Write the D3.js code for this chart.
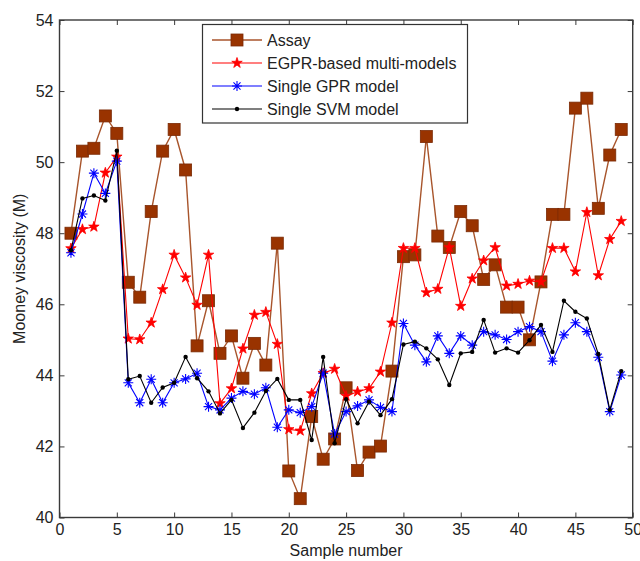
<!DOCTYPE html>
<html>
<head>
<meta charset="utf-8">
<script src="https://cdn.jsdelivr.net/npm/d3@7"></script>
<style>
  html, body { margin: 0; padding: 0; background: #fff; }
  svg { display: block; font-family: "Liberation Sans", Arial, sans-serif; }
</style>
</head>
<body>
<svg id="chart" width="640" height="561"></svg>
<script>
const samples = d3.range(1, 50);
const assay = [48.0, 50.31, 50.39, 51.3, 50.81, 46.62, 46.2, 48.61, 50.31, 50.92,
  49.78, 44.83, 46.1, 44.62, 45.11, 43.92, 44.9, 44.29, 47.72, 41.31,
  40.53, 42.84, 41.64, 42.21, 43.65, 41.32, 41.84, 42.01, 44.12, 47.34,
  47.39, 50.72, 47.92, 47.6, 48.61, 48.21, 46.7, 47.11, 45.92, 45.92,
  45.0, 46.63, 48.53, 48.53, 51.52, 51.8, 48.7, 50.2, 50.92];
const egpr = [47.57, 48.11, 48.18, 49.7, 50.15, 45.03, 45.01, 45.48, 46.42, 47.39,
  46.75, 45.98, 47.39, 43.21, 43.63, 44.75, 45.7, 45.78, 44.88, 42.48,
  42.44, 43.49, 44.06, 44.18, 43.42, 43.54, 43.63, 44.1, 45.48, 47.58,
  47.58, 46.33, 46.43, 47.6, 45.95, 46.72, 47.23, 47.6, 46.52, 46.57,
  46.66, 46.63, 47.58, 47.58, 46.92, 48.59, 46.81, 47.83, 48.34];
const gpr = [47.45, 48.54, 49.69, 49.12, 50.03, 43.79, 43.23, 43.89, 43.23, 43.79,
  43.9, 44.06, 43.12, 43.03, 43.36, 43.55, 43.47, 43.65, 42.54, 43.03,
  42.95, 43.12, 44.06, 42.35, 42.98, 43.14, 43.31, 43.1, 42.98, 45.46,
  44.85, 44.38, 45.11, 44.62, 45.11, 44.85, 45.23, 45.14, 45.01, 45.23,
  45.37, 45.23, 44.4, 45.14, 45.48, 45.23, 44.51, 42.98, 44.01];
const svmv = [47.52, 48.98, 49.06, 48.92, 50.32, 43.89, 43.98, 43.23, 43.66, 43.79,
  44.52, 43.92, 43.55, 42.93, 43.31, 42.52, 42.95, 43.56, 43.9, 43.31,
  43.31, 42.18, 44.52, 42.09, 43.33, 42.65, 43.26, 42.88, 43.33, 44.87,
  44.95, 44.76, 44.45, 43.73, 44.62, 44.66, 45.56, 44.64, 44.76, 44.64,
  44.99, 45.42, 44.66, 46.1, 45.79, 45.6, 44.6, 43.03, 44.12];
const seriesNames = ["Assay", "EGPR-based multi-models", "Single GPR model", "Single SVM model"];
const xTicks = [0, 5, 10, 15, 20, 25, 30, 35, 40, 45, 50];
const yTicks = [40, 42, 44, 46, 48, 50, 52, 54];
const xLabel = "Sample number";
const yLabel = "Mooney viscosity (M)";

const W = 640, H = 561;
const m = {left: 59.5, right: 7.3, top: 20, bottom: 43.5};
const iw = W - m.left - m.right, ih = H - m.top - m.bottom;
const svg = d3.select("#chart");
const g = svg.append("g").attr("transform", `translate(${m.left},${m.top})`);

const x = d3.scaleLinear().domain([0, 50]).range([0, iw]);
const y = d3.scaleLinear().domain([40, 54]).range([ih, 0]);

const fs = 16;
const axisColor = "#3a3a3a";

function styleAxis(sel) {
  sel.select(".domain").remove();
  sel.selectAll(".tick line").attr("stroke", axisColor).attr("stroke-width", 1);
  sel.selectAll(".tick text").attr("fill", "#222").style("font-size", fs + "px");
}

g.append("g").attr("transform", `translate(0,${ih})`)
  .call(d3.axisBottom(x).tickValues(xTicks).tickSizeInner(-5).tickSizeOuter(0).tickPadding(6))
  .call(styleAxis);
g.append("g")
  .call(d3.axisTop(x).tickValues(xTicks).tickSizeInner(-5).tickSizeOuter(0).tickFormat(""))
  .call(styleAxis);
g.append("g")
  .call(d3.axisLeft(y).tickValues(yTicks).tickSizeInner(-5).tickSizeOuter(0).tickPadding(6))
  .call(styleAxis);
g.append("g").attr("transform", `translate(${iw},0)`)
  .call(d3.axisRight(y).tickValues(yTicks).tickSizeInner(-5).tickSizeOuter(0).tickFormat(""))
  .call(styleAxis);

g.append("rect").attr("x", 0).attr("y", 0).attr("width", iw).attr("height", ih)
  .attr("fill", "none").attr("stroke", axisColor).attr("stroke-width", 1.4);

// Labels
svg.append("text").attr("x", m.left + x(25)).attr("y", 556)
  .attr("text-anchor", "middle").attr("fill", "#222").style("font-size", fs + "px").text(xLabel);
svg.append("text").attr("transform", `translate(25,${m.top + y(47)}) rotate(-90)`)
  .attr("text-anchor", "middle").attr("fill", "#222").style("font-size", fs + "px").text(yLabel);

// Markers
const lineColors = ["#a8552c", "#ff0000", "#0000ff", "#000000"];
const starPath = d3.symbol().type(d3.symbolStar).size(34)();
function asteriskPath(r) {
  const d = r * Math.SQRT1_2;
  return `M${-r},0L${r},0M0,${-r}L0,${r}M${-d},${-d}L${d},${d}M${-d},${d}L${d},${-d}`;
}
function drawMarker(sel, k) {
  if (k === 0) {
    sel.append("rect").attr("x", -6).attr("y", -6).attr("width", 12).attr("height", 12)
      .attr("fill", "#993300").attr("stroke", "#7a2a05").attr("stroke-width", 0.8);
  } else if (k === 1) {
    sel.append("path").attr("d", starPath).attr("fill", "#ff0000").attr("stroke", "#ff0000").attr("stroke-width", 0.8);
  } else if (k === 2) {
    sel.append("path").attr("d", asteriskPath(5)).attr("fill", "none").attr("stroke", "#0000ff").attr("stroke-width", 1.1);
  } else {
    sel.append("circle").attr("r", 2.2).attr("fill", "#000").attr("stroke", "none");
  }
}

const allSeries = [assay, egpr, gpr, svmv];
const line = d3.line().x((d, i) => x(samples[i])).y(d => y(d));
allSeries.forEach((vals, k) => {
  const sg = g.append("g");
  sg.append("path").datum(vals).attr("d", line).attr("fill", "none")
    .attr("stroke", lineColors[k]).attr("stroke-width", k === 0 ? 1.4 : 1.1);
  sg.selectAll("g.mk").data(vals).join("g").attr("class", "mk")
    .attr("transform", (d, i) => `translate(${x(samples[i])},${y(d)})`)
    .each(function() { drawMarker(d3.select(this), k); });
});

// Legend
const lg = svg.append("g");
lg.append("rect").attr("x", 202.5).attr("y", 24.5).attr("width", 265).attr("height", 98.5)
  .attr("fill", "#fff").attr("stroke", "#333").attr("stroke-width", 1.2);
const rowsY = [40, 63, 86, 109];
seriesNames.forEach((name, k) => {
  const ry = rowsY[k];
  lg.append("line").attr("x1", 212).attr("x2", 262).attr("y1", ry).attr("y2", ry)
    .attr("stroke", lineColors[k]).attr("stroke-width", k === 0 ? 1.4 : 1.1);
  const mg = lg.append("g").attr("transform", `translate(237,${ry})`);
  drawMarker(mg, k);
  lg.append("text").attr("x", 267).attr("y", ry).attr("dy", "0.36em")
    .attr("fill", "#222").style("font-size", fs + "px").text(name);
});
</script>
</body>
</html>
